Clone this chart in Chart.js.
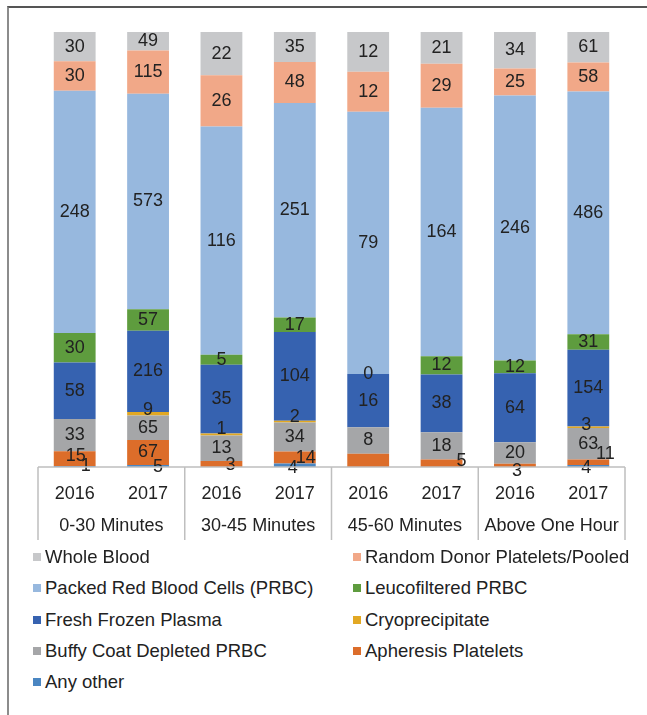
<!DOCTYPE html>
<html>
<head>
<meta charset="utf-8">
<script src="https://cdn.jsdelivr.net/npm/chart.js@4/dist/chart.umd.min.js"></script>
<style>
  body { margin: 0; background: #fff; font-family: "Liberation Sans", Arial, sans-serif; }
  #frame { position: absolute; left: 7px; top: 6px; width: 640px; height: 709px;
           border-left: 2px solid #8c8c8c; border-top: 2px solid #555; }
  #c { position: absolute; left: 0; top: 0; }
  .leg { position: absolute; font-size: 18.5px; color: #222; white-space: nowrap; height: 22px;
         display: flex; align-items: center; }
  .leg span { display: inline-block; width: 8px; height: 8px; margin-right: 4px; }
</style>
</head>
<body>
<div id="frame"><canvas id="c" width="638" height="541"></canvas></div>
<div id="legend"></div>
<script>
// categories
const years = ['2016', '2017', '2016', '2017', '2016', '2017', '2016', '2017'];
const groups = ['0-30 Minutes', '30-45 Minutes', '45-60 Minutes', 'Above One Hour'];

// units issued per component (null = no value)
const anyOther     = [1, 5, null, 4, null, null, null, 4];
const apheresis    = [15, 67, 3, 14, 4, 5, 3, 11];
const buffyCoat    = [33, 65, 13, 34, 8, 18, 20, 63];
const cryo         = [null, 9, 1, 2, null, null, null, 3];
const ffp          = [58, 216, 35, 104, 16, 38, 64, 154];
const leucofilt    = [30, 57, 5, 17, 0, 12, 12, 31];
const prbc         = [248, 573, 116, 251, 79, 164, 246, 486];
const randomDonor  = [30, 115, 26, 48, 12, 29, 25, 58];
const wholeBlood   = [30, 49, 22, 35, 12, 21, 34, 61];

// bottom to top
const series = [
  { name: 'Any other', data: anyOther, color: '#4a86c2' },
  { name: 'Apheresis Platelets', data: apheresis, color: '#dc6d2a' },
  { name: 'Buffy Coat Depleted PRBC', data: buffyCoat, color: '#a5a6a8' },
  { name: 'Cryoprecipitate', data: cryo, color: '#e2a823' },
  { name: 'Fresh Frozen Plasma', data: ffp, color: '#3662b0' },
  { name: 'Leucofiltered PRBC', data: leucofilt, color: '#5e9c3e' },
  { name: 'Packed Red Blood Cells (PRBC)', data: prbc, color: '#97b8de' },
  { name: 'Random Donor Platelets/Pooled', data: randomDonor, color: '#f1a888' },
  { name: 'Whole Blood', data: wholeBlood, color: '#c7c8ca' }
];

const totals = years.map((_, i) => series.reduce((s, d) => s + (d.data[i] || 0), 0));

const FONT = '"Liberation Sans", Arial, sans-serif';

// nudges for small overlapping labels, key = dataset-bar
const nudge = {
  '0-0': [11, 0], '0-1': [10, 1], '0-3': [-2, 3], '0-7': [-2, 2],
  '1-0': [1, -3], '1-2': [9, 1], '1-3': [11, 0], '1-5': [20, -2],
  '1-6': [2, 6], '1-7': [17, -8],
  '3-1': [0, -4], '3-2': [0, -5], '3-3': [0, -5], '3-7': [-2, -2]
};
const hideLabel = { '1-4': true };

const labelPlugin = {
  id: 'labels',
  afterDatasetsDraw(chart) {
    const ctx = chart.ctx;
    ctx.save();
    ctx.font = '18px ' + FONT;
    ctx.fillStyle = '#222';
    ctx.textAlign = 'center';
    ctx.textBaseline = 'middle';
    chart.data.datasets.forEach((ds, di) => {
      chart.getDatasetMeta(di).data.forEach((el, i) => {
        const v = series[di].data[i];
        const key = di + '-' + i;
        if (v === null || hideLabel[key]) return;
        const off = nudge[key] || [0, 0];
        ctx.fillText(String(v), el.x + off[0], (el.y + el.base) / 2 + off[1]);
      });
    });
    ctx.restore();
  }
};

const axisPlugin = {
  id: 'groupAxis',
  afterDraw(chart) {
    const ctx = chart.ctx;
    const a = chart.chartArea;
    const w = (a.right - a.left) / groups.length;
    ctx.save();
    ctx.strokeStyle = '#bfbfbf';
    ctx.lineWidth = 1.5;
    ctx.beginPath();
    ctx.moveTo(a.left, a.bottom);
    ctx.lineTo(a.right, a.bottom);
    for (let g = 0; g <= groups.length; g++) {
      const x = a.left + g * w;
      ctx.moveTo(x, a.bottom);
      ctx.lineTo(x, a.bottom + 73);
    }
    ctx.stroke();
    ctx.font = '18px ' + FONT;
    ctx.fillStyle = '#222';
    ctx.textAlign = 'center';
    ctx.textBaseline = 'middle';
    groups.forEach((g, i) => ctx.fillText(g, a.left + (i + 0.5) * w, a.bottom + 59));
    ctx.restore();
  }
};

new Chart(document.getElementById('c'), {
  type: 'bar',
  data: {
    labels: years,
    datasets: series.map(s => ({
      label: s.name,
      data: s.data.map((v, i) => v === null ? null : v / totals[i] * 100),
      backgroundColor: s.color,
      borderWidth: 0
    }))
  },
  options: {
    responsive: false,
    animation: false,
    devicePixelRatio: 1,
    layout: { padding: { left: 29, right: 22, top: 24, bottom: 0 } },
    categoryPercentage: 1,
    barPercentage: 0.57,
    plugins: { legend: { display: false }, tooltip: { enabled: false } },
    scales: {
      x: {
        stacked: true,
        grid: { display: false, drawTicks: false },
        border: { display: false },
        ticks: { color: '#222', padding: 16, font: { size: 18, family: FONT } },
        afterFit: s => { s.height = 82; }
      },
      y: { stacked: true, display: false, min: 0, max: 100 }
    }
  },
  plugins: [labelPlugin, axisPlugin]
});

// two column legend, top of stack first
const legend = document.getElementById('legend');
series.slice().reverse().forEach((s, i) => {
  const d = document.createElement('div');
  d.className = 'leg';
  d.style.left = (i % 2 === 0 ? 33 : 353) + 'px';
  d.style.top = (546 + Math.floor(i / 2) * 31.3) + 'px';
  d.innerHTML = '<span style="background:' + s.color + '"></span>' + s.name;
  legend.appendChild(d);
});
</script>
</body>
</html>
